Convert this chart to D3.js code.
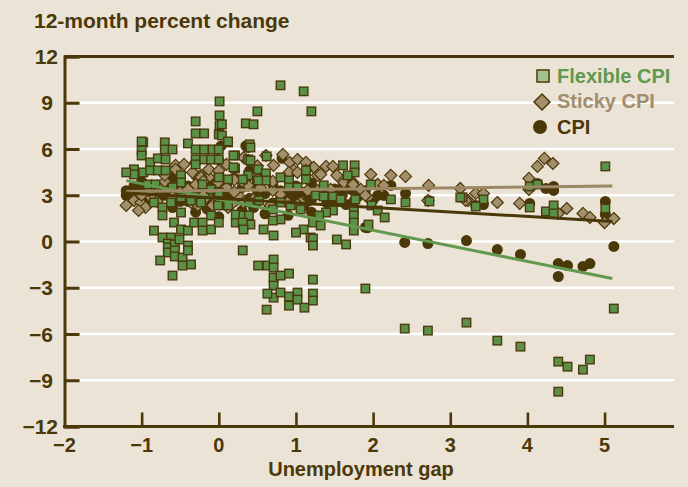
<!DOCTYPE html>
<html><head><meta charset="utf-8">
<script src="https://cdn.jsdelivr.net/npm/d3@7"></script>
<style>
html,body{margin:0;padding:0;background:#ece3d7;}
svg{display:block;}
text{font-family:"Liberation Sans",Arial,sans-serif;font-weight:bold;}
</style></head>
<body>
<svg id="chart" width="688" height="487"></svg>
<script>
// ---------- DATA ----------
const xTicks = [-2, -1, 0, 1, 2, 3, 4, 5];
const yTicks = [12, 9, 6, 3, 0, -3, -6, -9, -12];
const seriesNames = ["Flexible CPI", "Sticky CPI", "CPI"];

const flexible = [
  [0.80,10.13],[1.10,9.74],[1.20,8.44],[0.01,9.09],[0.01,8.18],[0.50,8.44],[0.35,7.66],[0.45,7.60],
  [-0.30,7.79],[0.01,7.53],[0.04,7.60],[0.0,6.95],[0.04,6.88],[-0.30,7.01],[-0.19,7.01],[0.12,6.43],
  [0.21,5.58],[0.21,4.74],[0.40,6.30],[-0.98,6.43],[-0.70,6.43],[-0.40,6.36],
  [-1.0,6.49],[-1.0,5.91],[-1.0,5.58],[-1.1,4.68],[-1.1,4.35],[-1.2,4.48],[-0.98,4.48],[-0.89,5.13],
  [-0.89,4.61],[-0.79,5.39],[-0.70,5.97],[-0.60,5.97],[-0.69,5.32],[-0.79,4.61],[-0.69,4.61],[-0.49,4.29],
  [-0.49,3.83],[-0.30,5.97],[-0.19,5.97],[-0.08,5.97],[0.0,5.97],[-0.30,5.32],[-0.19,5.32],[-0.30,5.0],
  [-0.10,5.32],[0,5.32],[0.12,6.49],[0.19,5.58],[0.19,4.81],[0.38,5.32],[0.38,4.29],[0,4.16],[0.12,4.03],
  [-0.21,3.70],[-0.92,3.70],[-0.82,3.70],[-0.84,2.53],[-0.73,2.21],[-0.73,1.69],[-0.62,2.53],[-0.49,1.88],
  [-0.58,1.23],[-0.84,0.71],[-0.73,0.26],[-0.62,0.26],[-0.49,0.78],[-0.40,0.71],[-0.32,1.23],[-0.21,1.23],
  [-0.21,0.71],[-0.10,0.78],[-0.10,1.69],[0,1.23],[-0.01,2.34],[0.22,1.23],[0.22,1.75],[0.32,1.69],
  [0.32,1.04],[0.12,2.34],[-0.23,2.53],[-0.36,2.66],[-0.49,2.86],[-0.10,3.38],[0,3.18],[-0.60,3.51],
  [0.41,6.10],[0.41,5.26],[0.62,5.52],[0.51,4.68],[0.61,4.42],[0.61,3.96],[0.51,3.96],[0.31,4.03],
  [0.80,4.16],[0.91,3.96],[0.91,3.51],[1.02,3.51],[1.13,4.61],[1.13,4.03],[1.36,3.64],[1.61,4.94],
  [1.76,4.94],[1.76,4.48],[1.67,4.29],[1.97,3.70],[1.26,2.99],[1.36,2.92],[1.48,2.92],[1.58,2.73],
  [1.77,2.73],[1.98,2.34],[1.75,2.08],[1.75,1.69],[1.75,1.23],[1.75,0.71],[2.06,2.01],[2.15,1.56],
  [1.94,1.10],[1.48,2.01],[1.39,1.88],[1.30,1.69],[1.22,1.23],[1.10,0.78],[1.0,0.58],[0.80,1.43],
  [0.80,2.53],[0.70,2.08],[0.70,1.36],[0.58,0.78],[0.71,0.39],[0.52,2.66],[0.39,2.53],[0.39,1.69],
  [0.41,1.10],[0.31,1.23],[0.32,0.78],[1.19,0.26],[1.32,1.04],[0.93,2.34],[1.06,2.08],
  [1.53,0.13],[1.65,-0.19],[1.22,0.19],[1.22,-0.26],
  [-0.66,-0.13],[-0.66,-0.39],[-0.66,-0.71],[-0.57,-0.19],[-0.57,-0.58],[-0.57,-0.97],[-0.51,0.13],
  [-0.47,-1.04],[-0.47,-1.56],[-0.40,-0.26],[-0.40,-0.58],[-0.36,-1.49],[-0.76,-1.23],[-0.60,-2.21],[0.31,-0.58],
  [0.51,-1.56],[0.63,-1.56],[0.71,-1.17],[0.71,-1.69],[0.71,-2.34],[0.71,-2.86],[0.71,-3.64],[0.80,-2.21],
  [0.91,-2.08],[0.63,-3.38],[0.80,-3.31],[0.91,-3.57],[0.91,-4.16],[1.02,-3.31],[1.02,-3.77],[1.11,-4.29],
  [1.22,-2.47],[1.22,-3.38],[1.22,-3.83],[0.62,-4.42],[1.90,-3.05],
  [2.41,-5.65],[2.71,-5.78],[3.21,-5.26],[3.61,-6.43],[3.91,-6.82],[4.40,-7.79],[4.52,-8.12],[4.72,-8.31],
  [4.81,-7.66],[4.40,-9.74],[5.12,-4.35],
  [5.01,4.87],[4.03,3.57],[4.13,3.70],[3.43,2.73],[3.33,2.27],[4.03,2.21],[4.24,1.95],[4.34,2.34],
  [4.34,1.82],[5.01,2.14],[3.16,2.86],[2.23,2.73],[2.42,2.53],[2.73,2.60],[3.13,2.86]
];

const sticky = [
  [-1.2,2.34],[-1.1,2.66],[-1.01,2.53],[-0.95,2.21],[-1.04,2.01],[-0.88,2.86],[-0.56,4.94],[-0.45,5.0],
  [-0.34,4.48],[-0.23,4.29],[-0.13,4.16],[-0.01,3.83],[0.32,5.45],[0.38,5.26],[-0.36,2.53],[-0.27,2.34],
  [-0.19,2.73],[-0.08,2.34],[0,2.53],[0.12,2.21],[0.19,2.53],[0.28,2.86],[-0.56,4.68],[-0.30,5.13],
  [-0.13,4.68],[-0.01,5.32],[0.51,4.03],[-0.23,4.16],
  [0.61,5.58],[0.83,5.65],[0.71,4.94],[0.92,5.13],[1.02,5.32],[1.13,5.13],[1.23,4.81],[1.39,4.87],
  [1.48,4.87],[1.53,4.29],[1.28,4.29],[1.13,4.61],[0.97,4.61],[0.89,4.29],[1.32,4.35],[0.91,4.48],
  [1.02,4.48],[1.62,3.83],[1.74,3.83],[1.93,2.86],[2.12,3.51],[0.91,2.40],[0.80,3.05],[0.70,3.31],
  [0.38,3.64],[0.54,3.51],[1.28,3.31],[1.15,3.31],[1.06,2.53],[0.67,2.34],[0.45,2.73],[0.32,2.53],
  [1.45,3.38],[1.84,3.38],[1.97,4.35],[2.23,4.29],[2.42,4.22],[2.72,3.64],[3.13,3.44],[3.33,3.12],
  [1.74,3.70],[1.90,2.99],[2.06,3.70],[2.14,3.64],[2.71,2.66],[3.23,2.66],[1.02,2.40],[0.89,2.53],
  [3.43,3.12],[3.20,2.66],[3.61,2.53],[3.90,2.47],[4.02,4.09],[4.13,4.87],[4.22,5.39],[4.33,5.06],
  [4.02,3.38],[4.40,1.82],[4.51,2.14],[4.72,1.82],[4.81,1.56],[5.0,1.23],[5.12,1.49],
  [-0.9,3.3],[-0.8,3.6],[-0.7,3.9],[-0.6,3.5],[-0.5,3.2],[-0.4,3.4],[-0.3,3.7],[-0.2,3.0],[-0.1,3.3],
  [0.1,3.5],[0.2,3.2],[0.3,3.9],[0.4,4.3],[0.6,4.2],[0.7,3.9],[-1.0,3.0],[-0.8,2.6],[-0.6,2.9],
  [-0.4,2.9],[-0.2,3.9],[0,4.6],[0.2,4.0],[0.5,4.9],[0.1,5.0],[-0.7,4.3]
];

const cpi = [
  [-1.2,3.0],[-1.2,3.3],[-1.1,3.1],[-1.1,3.6],[-1.0,2.9],[-1.0,3.4],[-1.0,3.9],[-0.9,3.2],[-0.9,2.7],
  [-0.8,3.5],[-0.8,2.9],[-0.7,3.7],[-0.7,3.0],[-0.6,3.3],[-0.6,4.2],[-0.5,3.0],[-0.5,3.8],[-0.4,2.6],
  [-0.4,3.6],[-0.3,4.3],[-0.3,3.1],[-0.2,3.5],[-0.2,2.4],[-0.1,3.9],[-0.1,2.8],[0,4.4],[0,3.2],[0,2.5],
  [0.03,6.2],[0.1,3.7],[0.1,2.9],[0.2,4.1],[0.2,3.0],[0.3,3.5],[0.35,6.2],[0.38,6.1],[0.4,4.6],[0.4,2.8],
  [0.5,3.9],[0.5,2.6],[0.6,4.3],[0.6,3.1],[0.7,3.7],[0.7,2.5],[0.82,5.4],[0.8,3.3],[0.9,2.9],[0.9,4.1],
  [1.0,3.6],[1.0,2.6],[1.1,3.2],[1.1,2.3],[1.2,3.8],[1.2,2.7],[1.3,3.3],[1.4,2.9],[1.5,3.4],[1.61,3.64],
  [1.65,2.4],[1.71,3.38],[1.8,2.9],[1.9,0.91],[1.93,0.9],[2.06,2.99],[2.14,2.99],[2.23,3.64],[2.42,3.12],
  [2.41,-0.06],[2.72,2.66],[2.71,-0.13],[3.21,0.06],[3.33,2.34],[3.43,2.40],[3.61,-0.52],[3.91,-0.84],
  [4.03,2.47],[4.13,3.77],[4.24,3.44],[4.34,3.57],[4.34,3.31],[4.40,-1.43],[4.40,-2.27],[4.52,-1.56],
  [4.72,-1.62],[4.81,-1.43],[5.01,2.60],[5.01,1.75],[5.12,-0.32],
  [-0.3,1.9],[0,1.6],[0.3,2.0],[0.6,1.8],[0.9,1.7],[-0.6,2.2],[1.2,1.9],[1.32,3.31],
  [1.4,2.5],[1.6,3.0],[1.75,2.6],[1.9,3.3],[2.0,2.7],[0.5,3.3],[0.8,2.8],[1.0,3.1],[-0.9,3.6],
  [-0.5,2.6],[0.2,2.6],[1.5,2.7],[0.45,2.2],[-0.15,2.1],[0.65,2.2],[1.15,2.6]
];

// fitted trend lines: [x, y] endpoints
const flexibleTrend = [[-1.2, 3.95], [5.1, -2.4]];
const stickyTrend   = [[-1.2, 3.25], [5.1, 3.6]];
const cpiTrend      = [[-1.2, 3.15], [5.1, 1.3]];

// ---------- STYLE ----------
const DARK = "#4b3808";
const GREEN = "#5a9146", GREEN_TXT = "#62994e", GREEN_LEG = "#a2c18d";
const TAN = "#a38f6b", TAN_TXT = "#a08e6e", TAN_LINE = "#9c8864";

const svg = d3.select("#chart");
const x = d3.scaleLinear().domain([-2, 5.9]).range([64.5, 674]);
const y = d3.scaleLinear().domain([-12, 12]).range([426.5, 56.5]);
const left = x.range()[0], right = x.range()[1];

// gridlines
svg.append("g").selectAll("line").data(yTicks.filter(t => t !== 12 && t !== -12)).join("line")
  .attr("x1", left + 15).attr("x2", right)
  .attr("y1", d => y(d)).attr("y2", d => y(d))
  .attr("stroke", "#ffffff").attr("stroke-width", 2.6);

// top line at 12
svg.append("line").attr("x1", left).attr("x2", right).attr("y1", y(12)).attr("y2", y(12))
  .attr("stroke", DARK).attr("stroke-width", 3);

// y axis
const yAxis = d3.axisRight(y).tickValues(yTicks).tickSize(15).tickFormat("");
const gy = svg.append("g").attr("transform", `translate(${left},0)`).call(yAxis);
gy.select(".domain").attr("stroke", DARK).attr("stroke-width", 3);
gy.selectAll(".tick line").attr("stroke", DARK).attr("stroke-width", 3);

// y labels
svg.append("g").selectAll("text").data(yTicks).join("text")
  .attr("x", d => (d === 12 || d === -12) ? 58 : 53)
  .attr("y", d => y(d) + 7.5)
  .attr("text-anchor", "end").attr("font-size", 21).attr("fill", DARK)
  .text(d => d < 0 ? "\u2212" + Math.abs(d) : String(d));

// x axis
const xAxis = d3.axisTop(x).tickValues(xTicks.filter(t => t !== -2)).tickSize(14).tickFormat("");
const gx = svg.append("g").attr("transform", `translate(0,${y(-12)})`).call(xAxis);
gx.select(".domain").remove();
gx.selectAll(".tick line").attr("stroke", DARK).attr("stroke-width", 2.6);
svg.append("line").attr("x1", left - 1.5).attr("x2", right).attr("y1", y(-12)).attr("y2", y(-12))
  .attr("stroke", DARK).attr("stroke-width", 3);

svg.append("g").selectAll("text").data(xTicks).join("text")
  .attr("x", d => x(d)).attr("y", 452)
  .attr("text-anchor", "middle").attr("font-size", 20).attr("fill", DARK)
  .text(d => d < 0 ? "\u2212" + Math.abs(d) : String(d));

// titles
svg.append("text").attr("x", 34).attr("y", 28).attr("font-size", 21).attr("fill", DARK)
  .text("12-month percent change");
svg.append("text").attr("x", 361).attr("y", 476).attr("text-anchor", "middle")
  .attr("font-size", 20).attr("fill", DARK).text("Unemployment gap");

// points: CPI circles
svg.append("g").selectAll("circle").data(cpi).join("circle")
  .attr("cx", d => x(d[0])).attr("cy", d => y(d[1])).attr("r", 5.5)
  .attr("fill", DARK);

// sticky diamonds
const ds = 6;
svg.append("g").selectAll("path").data(sticky).join("path")
  .attr("d", d => {
    const cx = x(d[0]), cy = y(d[1]);
    return `M${cx},${cy - ds}L${cx + ds},${cy}L${cx},${cy + ds}L${cx - ds},${cy}Z`;
  })
  .attr("fill", TAN).attr("stroke", DARK).attr("stroke-width", 1.2);

// flexible squares
const sq = 8.5;
svg.append("g").selectAll("rect").data(flexible).join("rect")
  .attr("x", d => x(d[0]) - sq / 2).attr("y", d => y(d[1]) - sq / 2)
  .attr("width", sq).attr("height", sq)
  .attr("fill", GREEN).attr("stroke", "#4a3a0e").attr("stroke-width", 1.4);

// trend lines
const line = d3.line().x(d => x(d[0])).y(d => y(d[1]));
[[flexibleTrend, GREEN_TXT], [stickyTrend, TAN_LINE], [cpiTrend, DARK]].forEach(([pts, c]) => {
  svg.append("path").attr("d", line(pts)).attr("fill", "none").attr("stroke", c).attr("stroke-width", 3);
});

// legend
const lg = svg.append("g");
lg.append("rect").attr("x", 537).attr("y", 70).attr("width", 12).attr("height", 12)
  .attr("fill", GREEN_LEG).attr("stroke", DARK).attr("stroke-width", 1.5);
lg.append("path").attr("d", "M542,94L550,102L542,110L534,102Z")
  .attr("fill", TAN).attr("stroke", DARK).attr("stroke-width", 1.5);
lg.append("circle").attr("cx", 540).attr("cy", 127).attr("r", 7).attr("fill", DARK);
const legColors = [GREEN_TXT, TAN_TXT, DARK];
const legY = [83, 108, 134];
lg.selectAll("text.leg").data(seriesNames).join("text").attr("class", "leg")
  .attr("x", 557).attr("y", (d, i) => legY[i]).attr("font-size", 20)
  .attr("fill", (d, i) => legColors[i]).text(d => d);
</script>
</body></html>
